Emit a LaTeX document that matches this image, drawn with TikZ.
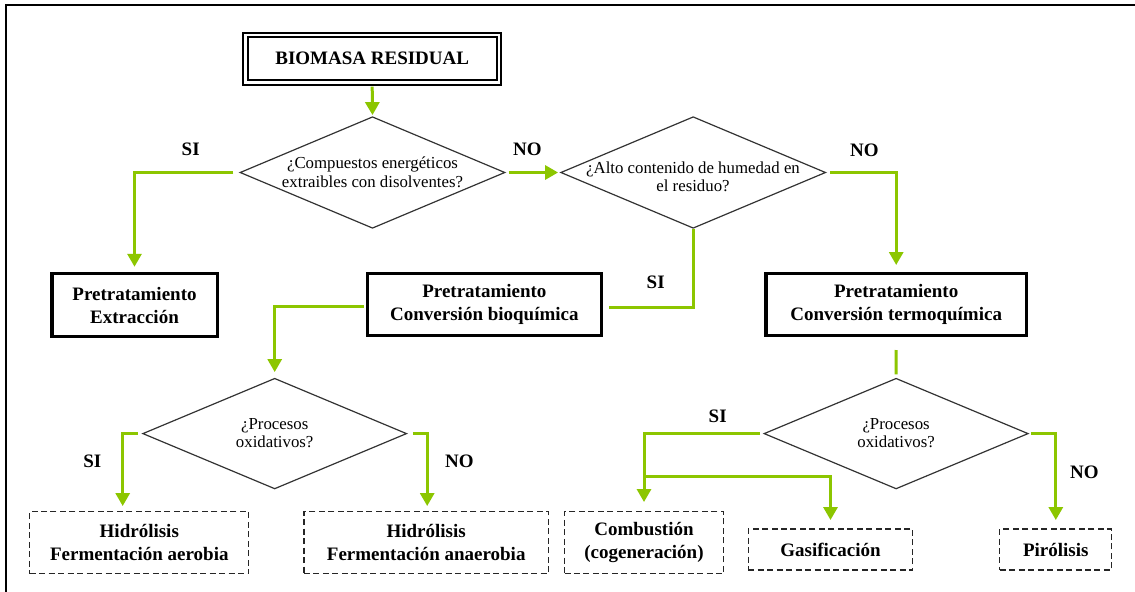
\documentclass[tikz,border=0pt]{standalone}
\usepackage{fontspec}
\setmainfont{Liberation Serif}
\usetikzlibrary{shapes.geometric,arrows.meta,calc}
\definecolor{lime}{RGB}{140,198,0}
\tikzset{
  bigfont/.style={font=\fontsize{14.25pt}{17.25pt}\selectfont\bfseries},
  qfont/.style={font=\fontsize{12.6pt}{13.9pt}\selectfont},
  solidbox/.style={draw=black,line width=2.6pt,inner sep=0pt,align=center,bigfont},
  dashbox/.style={draw=black!85,line width=1pt,dash pattern=on 4.5pt off 2.6pt,inner sep=0pt,align=center,bigfont},
  decision/.style={diamond,draw=black!80,line width=0.9pt,inner sep=0pt},
  qtext/.style={align=center,qfont,inner sep=0pt},
  lbl/.style={bigfont,inner sep=0pt},
  conn/.style={draw=lime,line width=2.25pt,line join=miter},
  arr/.style={conn,-{Triangle[width=10.5pt,length=9.75pt]}},
}
\begin{document}
\begin{tikzpicture}[x=0.75pt,y=-0.75pt]
\fill[white] (0,0) rectangle (1135,592);
\useasboundingbox (0,0) rectangle (1135,592);
% frame
\draw[line width=1.5pt] (6,592) -- (6,5) -- (1135,5);

% top box
\node[draw,line width=1.5pt,double=white,double distance=1.9pt,inner sep=0pt,minimum width=190.1pt,minimum height=35.5pt,bigfont] (bio) at (372.2,58.6) {BIOMASA RESIDUAL};

% decisions
\node[decision,minimum width=198.75pt,minimum height=83.7pt] (d1) at (372.5,172.5) {};
\node[qtext] (d1t) at (372.5,172.5) {¿Compuestos energéticos\\extraibles con disolventes?};
\node[decision,minimum width=198.75pt,minimum height=83.7pt] (d2) at (693.2,172.5) {};
\node[qtext] (d2t) at (693,177) {¿Alto contenido de humedad en\\el residuo?};
\node[decision,minimum width=198pt,minimum height=83pt] (d3) at (274.7,433.6) {};
\node[qtext] (d3t) at (274.7,433.2) {¿Procesos\\oxidativos?};
\node[decision,minimum width=198.2pt,minimum height=83pt] (d4) at (896.1,433.6) {};
\node[qtext] (d4t) at (896.1,433.2) {¿Procesos\\oxidativos?};

% solid boxes
\node[solidbox,minimum width=124.1pt,minimum height=47.25pt] (ext) at (134.5,305) {Pretratamiento\\Extracción};
\node[solidbox,minimum width=175.35pt,minimum height=46.6pt] (bioq) at (484.4,304.5) {Pretratamiento\\Conversión bioquímica};
\node[solidbox,minimum width=195.6pt,minimum height=46.6pt] (termo) at (896.2,304.5) {Pretratamiento\\Conversión termoquímica};

% dashed boxes
\node[dashbox,minimum width=164.25pt,minimum height=46.5pt] (aer) at (139.3,542.7) {Hidrólisis\\Fermentación aerobia};
\node[dashbox,minimum width=183.4pt,minimum height=46.5pt] (ana) at (426.2,542.7) {Hidrólisis\\Fermentación anaerobia};
\node[dashbox,minimum width=119.25pt,minimum height=46.5pt] (comb) at (644,542.7) {Combustión\\(cogeneración)};
\node[dashbox,minimum width=123.4pt,minimum height=30.75pt] (gas) at (830.5,549.5) {Gasificación};
\node[dashbox,minimum width=84pt,minimum height=30.75pt] (pir) at (1055.8,549.5) {Pirólisis};

% labels
\node[lbl] (l1) at (190.7,149) {SI};
\node[lbl] (l2) at (527.3,149) {NO};
\node[lbl] (l3) at (864.3,150) {NO};
\node[lbl] (l4) at (655.7,282.3) {SI};
\node[lbl] (l5) at (92.3,461.7) {SI};
\node[lbl] (l6) at (459.3,461.7) {NO};
\node[lbl] (l7) at (717.7,416) {SI};
\node[lbl] (l8) at (1084.3,472.7) {NO};

% connectors
\draw[arr] ($(bio.south)+(0,3.3)$) -- ($(d1.north)+(0,-1)$);
\draw[arr] ($(d1.west)+(-6,0)$) -| ($(ext.north)+(0,-5)$);
\draw[arr] ($(d1.east)+(3,0)$) -- ($(d2.west)+(-2,0)$);
\draw[arr] ($(d2.east)+(4,0)$) -| ($(termo.north)+(0,-6.7)$);
\draw[conn] (d2.south) |- ($(bioq.east)+(6.4,2.8)$);
\draw[arr] ($(bioq.west)+(-2,2.2)$) -| ($(d3.north)+(0,-5.6)$);
\draw[arr] ($(d3.west)+(-4.4,0)$) -| ($(aer.north)+(-16.6,-5)$);
\draw[arr] ($(d3.east)+(5.6,0)$) -| ($(ana.north)+(1,-5)$);
\draw[conn] ($(termo.south)+(0,12.7)$) -- ($(d4.north)+(0,-3.3)$);
\draw[arr] ($(d4.west)+(-3.3,0)$) -| ($(comb.north)+(0,-9)$);
\coordinate (br) at ($(comb.north)+(0,-34.4)$);
\draw[arr] (br) -| ($(gas.north)+(0,-8.3)$);
\draw[arr] ($(d4.east)+(2,0)$) -| ($(pir.north)+(0,-8.3)$);
\end{tikzpicture}
\end{document}
